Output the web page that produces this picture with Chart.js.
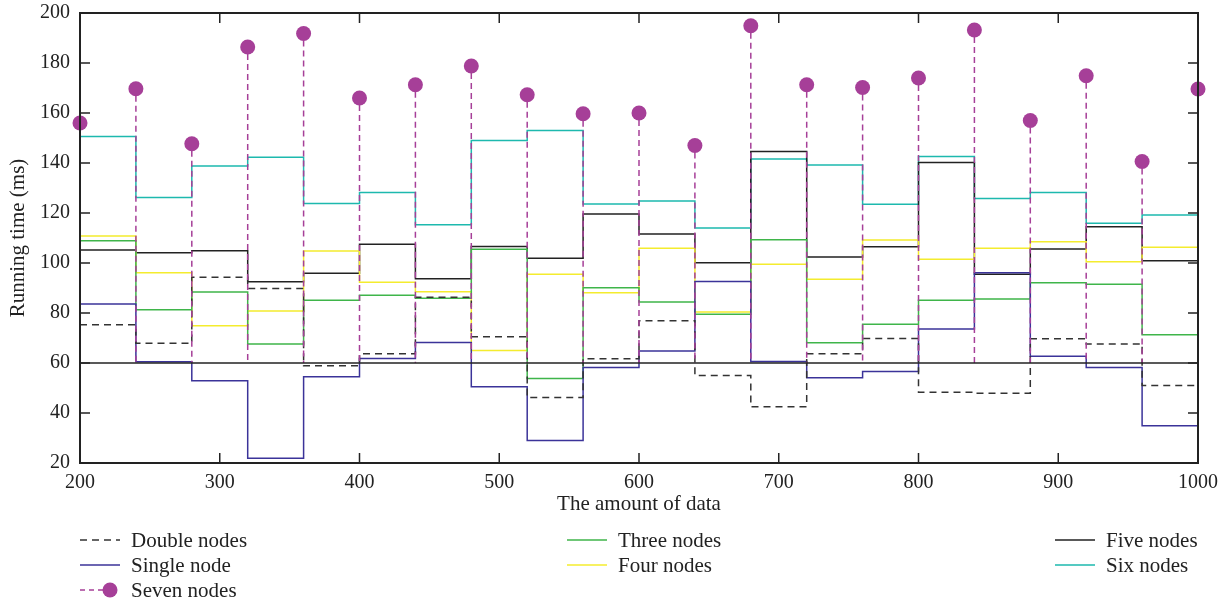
<!DOCTYPE html>
<html>
<head>
<meta charset="utf-8">
<script src="https://cdn.jsdelivr.net/npm/chart.js@4.4.1/dist/chart.umd.min.js"></script>
<style>
  html, body { margin: 0; padding: 0; background: #fff; }
  #wrap { width: 1226px; height: 603px; }
</style>
</head>
<body>
<div id="wrap"><canvas id="chart" width="1226" height="603"></canvas></div>
<script>
// amount of data (x positions of the stairs)
const amounts = [200, 240, 280, 320, 360, 400, 440, 480, 520, 560, 600,
                 640, 680, 720, 760, 800, 840, 880, 920, 960, 1000];

// running time (ms) per series
const doubleNodes = [75.3, 67.9, 94.3, 89.8, 58.9, 63.7, 86.3, 70.5, 46.2, 61.7, 76.9,
                     55.0, 42.5, 63.7, 69.8, 48.3, 47.9, 69.7, 67.6, 51.0, 60.0];
const singleNode  = [83.6, 60.5, 52.9, 21.9, 54.5, 61.8, 68.2, 50.5, 29.0, 58.2, 64.8,
                     92.6, 60.6, 54.1, 56.6, 73.6, 96.1, 62.7, 58.2, 34.9, 65.0];
const threeNodes  = [108.9, 81.3, 88.4, 67.6, 85.1, 87.1, 85.9, 105.5, 53.8, 90.1, 84.4,
                     79.5, 109.3, 68.1, 75.5, 85.1, 85.6, 92.1, 91.5, 71.3, 80.0];
const fourNodes   = [110.8, 96.1, 74.9, 80.8, 104.8, 92.3, 88.5, 65.0, 95.5, 88.1, 105.9,
                     80.4, 99.5, 93.5, 109.2, 101.5, 105.9, 108.5, 100.5, 106.3, 103.0];
const fiveNodes   = [105.2, 104.1, 104.9, 92.5, 95.9, 107.5, 93.7, 106.6, 101.9, 119.6, 111.6,
                     100.1, 144.6, 102.4, 106.5, 140.2, 95.5, 105.6, 114.5, 100.9, 101.0];
const sixNodes    = [150.6, 126.2, 138.8, 142.3, 123.8, 128.2, 115.3, 149.0, 153.0, 123.6, 124.8,
                     114.0, 141.6, 139.2, 123.5, 142.6, 125.8, 128.2, 115.9, 119.2, 156.0];
const sevenNodes  = [156.0, 169.7, 147.7, 186.4, 191.8, 166.0, 171.3, 178.8, 167.3, 159.7, 160.0,
                     147.0, 194.9, 171.3, 170.2, 174.0, 193.2, 157.0, 174.9, 140.6, 169.6];

const stemBase = 60;
const yTicks = [20, 40, 60, 80, 100, 120, 140, 160, 180, 200];
const xTicks = [200, 300, 400, 500, 600, 700, 800, 900, 1000];

const FONT = "'Liberation Serif', 'DejaVu Serif', serif";
const pts = arr => arr.map((v, i) => ({ x: amounts[i], y: v }));

const colors = {
  double: '#333333',
  single: '#3b3399',
  three: '#3fb54a',
  four: '#f4ec2e',
  five: '#222222',
  six: '#1db9ae',
  seven: '#a63f98'
};

function stairs(label, data, color, dash) {
  return {
    label, data: pts(data), borderColor: color, backgroundColor: color,
    borderWidth: 1.5, borderDash: dash || [], stepped: 'before',
    pointRadius: 0, fill: false
  };
}

const datasets = [
  stairs('Double nodes', doubleNodes, colors.double, [7, 5]),
  stairs('Single node', singleNode, colors.single),
  stairs('Three nodes', threeNodes, colors.three),
  stairs('Four nodes', fourNodes, colors.four),
  stairs('Five nodes', fiveNodes, colors.five),
  stairs('Six nodes', sixNodes, colors.six),
  {
    label: 'Seven nodes', data: pts(sevenNodes), showLine: false, clip: false,
    borderColor: colors.seven, backgroundColor: colors.seven,
    pointRadius: 7.5, pointBorderWidth: 0, borderDash: [6, 4]
  }
];

// stems, baseline, box with inward ticks, legend
const decor = {
  id: 'decor',
  afterDatasetsDraw(chart) {
    const ctx = chart.ctx, a = chart.chartArea;
    const ys = chart.scales.y;
    const yb = ys.getPixelForValue(stemBase);
    const meta = chart.getDatasetMeta(6);
    ctx.save();
    ctx.strokeStyle = colors.seven;
    ctx.lineWidth = 1.5;
    ctx.setLineDash([6, 4]);
    meta.data.forEach(p => {
      ctx.beginPath();
      ctx.moveTo(p.x, p.y + 7);
      ctx.lineTo(p.x, yb);
      ctx.stroke();
    });
    ctx.setLineDash([]);
    ctx.strokeStyle = '#222';
    ctx.lineWidth = 1.5;
    ctx.beginPath();
    ctx.moveTo(a.left, yb);
    ctx.lineTo(a.right, yb);
    ctx.stroke();
    ctx.restore();
  },
  afterDraw(chart) {
    const ctx = chart.ctx, a = chart.chartArea;
    const xs = chart.scales.x, ys = chart.scales.y;
    ctx.save();
    ctx.strokeStyle = '#222';
    ctx.lineWidth = 2;
    ctx.strokeRect(a.left, a.top, a.right - a.left, a.bottom - a.top);
    ctx.lineWidth = 1.5;
    const tl = 10;
    ctx.beginPath();
    xTicks.forEach(v => {
      const x = xs.getPixelForValue(v);
      ctx.moveTo(x, a.bottom); ctx.lineTo(x, a.bottom - tl);
      ctx.moveTo(x, a.top); ctx.lineTo(x, a.top + tl);
    });
    yTicks.forEach(v => {
      const y = ys.getPixelForValue(v);
      ctx.moveTo(a.left, y); ctx.lineTo(a.left + tl, y);
      ctx.moveTo(a.right, y); ctx.lineTo(a.right - tl, y);
    });
    ctx.stroke();

    // legend, column by column like the original
    const cols = [a.left, 567, 1055];
    const rows = [540, 565, 590];
    const layout = [[0, 0, 0], [1, 0, 1], [6, 0, 2], [2, 1, 0], [3, 1, 1], [4, 2, 0], [5, 2, 1]];
    ctx.font = '21px ' + FONT;
    ctx.textBaseline = 'middle';
    ctx.fillStyle = '#222';
    layout.forEach(([di, c, r]) => {
      const ds = chart.data.datasets[di];
      const x = cols[c], y = rows[r];
      ctx.strokeStyle = ds.borderColor;
      ctx.lineWidth = 1.5;
      ctx.beginPath();
      if (di === 6) {
        ctx.setLineDash([5, 4]);
        ctx.moveTo(x, y); ctx.lineTo(x + 24, y);
      } else {
        ctx.setLineDash(ds.borderDash || []);
        ctx.moveTo(x, y); ctx.lineTo(x + 40, y);
      }
      ctx.stroke();
      ctx.setLineDash([]);
      if (di === 6) {
        ctx.fillStyle = ds.backgroundColor;
        ctx.beginPath();
        ctx.arc(x + 30, y, 7.5, 0, Math.PI * 2);
        ctx.fill();
        ctx.fillStyle = '#222';
      }
      ctx.fillText(ds.label, x + 51, y + 1);
    });
    ctx.restore();
  }
};

new Chart(document.getElementById('chart'), {
  type: 'line',
  data: { datasets },
  plugins: [decor],
  options: {
    responsive: false,
    animation: false,
    layout: { padding: { left: 0, right: 28, top: 13, bottom: 83 } },
    plugins: { legend: { display: false }, tooltip: { enabled: false } },
    scales: {
      x: {
        type: 'linear', min: 200, max: 1000,
        afterBuildTicks: s => { s.ticks = xTicks.map(v => ({ value: v })); },
        afterFit: s => { s.height = 57; s.paddingLeft = 0; s.paddingRight = 0; },
        grid: { display: false, drawTicks: false },
        border: { display: false },
        ticks: { color: '#222', padding: 8, maxRotation: 0, callback: v => String(v),
                 font: { family: FONT, size: 20 } },
        title: { display: true, text: 'The amount of data', color: '#222',
                 padding: { top: 0, bottom: 3 }, font: { family: FONT, size: 21 } }
      },
      y: {
        min: 20, max: 200,
        afterBuildTicks: s => { s.ticks = yTicks.map(v => ({ value: v })); },
        afterFit: s => { s.width = 80; s.paddingTop = 0; s.paddingBottom = 0; },
        grid: { display: false, drawTicks: false },
        border: { display: false },
        ticks: { color: '#222', padding: 10, callback: v => String(v),
                 font: { family: FONT, size: 20 } },
        title: { display: true, text: 'Running time (ms)', color: '#222',
                 padding: { top: 6, bottom: 0 }, font: { family: FONT, size: 21 } }
      }
    }
  }
});
</script>
</body>
</html>
